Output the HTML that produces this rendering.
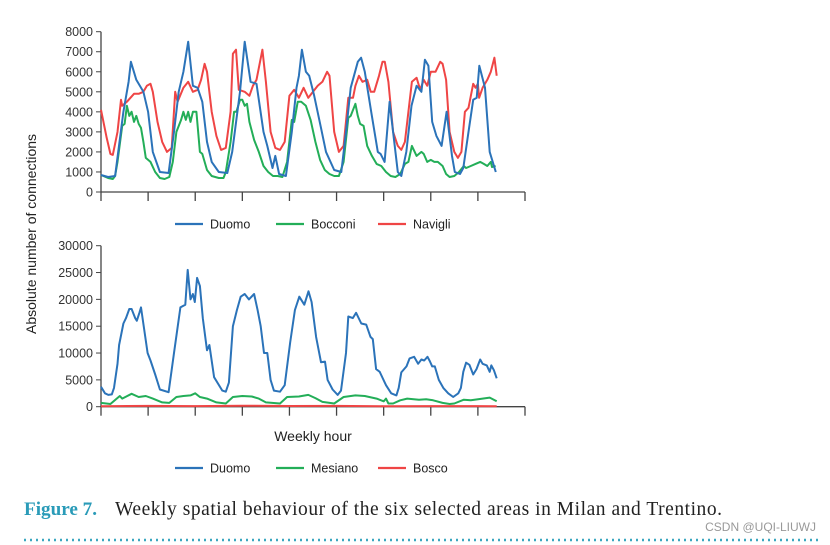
<!DOCTYPE html>
<html><head><meta charset="utf-8">
<style>
body{margin:0;background:#fff;width:830px;height:545px;overflow:hidden;font-family:"Liberation Sans",sans-serif;}
svg{position:absolute;left:0;top:0}
</style></head>
<body>
<svg id="chart" width="830" height="545"></svg>
<script>
// ---- Top chart (Milan) ----
const topTicks=[0,1000,2000,3000,4000,5000,6000,7000,8000];
const duomoMiH=[0,3,6,9.5,11.7,12.7,15,18,20,22,25,28.7,31,33,35,37,39,41,43,45,47,50,53.6,55.7,59,61,63.5,66,69,70.6,72.8,74,75.6,78.5,81,83,84,85.3,87,88.4,90.5,93.4,95.5,99,102,104,106,109,110.4,112,114.7,117.5,118.7,120.4,122.5,123.2,126,127.5,129.6,131.8,134,136,137.5,139,140.6,142.4,144.6,146.7,149,150.2,152.4,153.8,156,158,159.5,160.6,163,165,167.6];
const duomoMiV=[850,750,800,4000,5500,6500,5600,5000,4000,2000,1000,950,3000,5000,6000,7500,5300,5200,4500,2500,1500,1000,950,2000,5000,7500,5500,5400,3000,2300,1200,1800,900,800,3000,5200,5800,7100,6000,5800,4800,3200,2000,1100,1000,3000,5200,6500,6700,6000,4000,2000,1900,1500,4500,3800,1000,800,2000,4300,5300,5000,6600,6300,3500,2800,2300,4000,1800,1000,900,1200,3000,4600,4700,6300,5200,2000,1000];
const navigliH=[0,2.4,3,4,5,7,8.5,9,11,14,16,18,19.5,21,22,24,26,28,30,31.5,32.5,35,37,39,41,42.5,44,45,47,49,51,53,55,56,57.3,58.5,61,63,64.5,66,68.5,70,72,74,76,78,80,82,84,86,88,90,92,94,96,97,99,101,103,105,107,108,109.5,111,113,114.5,116,118,119.5,120.5,122,124,126,127.5,129,132,134,135.5,137,138.5,140,142,144,145,146.5,148,150,151.5,153,154.5,156,158,159,160,160.5,162,164,165.5,167,168];
const navigliV=[4100,2700,2400,1900,1850,3000,4600,4300,4500,4900,4900,5000,5300,5400,5000,3500,2500,2000,2200,5000,4500,5200,5500,5000,5100,5600,6400,6000,4000,2800,2100,2200,4000,6900,7100,5100,5000,4800,5300,5600,7100,5500,3000,2200,2100,2500,4800,5100,4700,5200,4700,5000,5300,5500,6000,5800,3000,2000,2300,4700,4700,5300,5800,5500,5600,5000,5000,5800,6500,6500,5500,3000,2300,2100,2500,5500,5700,5100,5600,5300,6000,6000,6500,6400,5600,3000,2000,1700,2000,4000,4200,5400,5200,5400,4700,5200,5600,6000,6700,5800];
const bocconiH=[0,3,5,6,7,9,10,11,12,13,14,15,16,17,18,19,21,23,25,27,29,30.5,32,34,35,36,37,38,39,40.5,42,43,45,47,50,52,53,55,56.5,57.5,59,60,61,62,63,65,67,69,71,73,75,77,79,81,82,83.5,85,87,89,91,93,95,97,99,101,103,105,106,108,109,110,111.5,113,115,117,119,121,123,125,127,129,130.5,132,134,136,137,138.5,140,141.5,143,145,146.5,148,150,152,154,155,157,159,161,162.5,164,165.5,166,167.5];
const bocconiV=[850,700,650,800,1500,3300,3400,4300,3800,4000,3500,3800,3400,3200,2500,1700,1500,1000,700,650,750,1500,3000,3600,4000,3600,4000,3500,4000,4000,2000,1900,1100,800,700,700,1000,2500,4000,4000,4600,4600,4300,4400,3500,2600,2000,1300,1000,800,800,750,1500,3600,3500,4500,4500,4300,3600,2500,1600,1100,900,800,800,1500,3700,3800,4400,3800,3400,3300,2300,1800,1400,1300,1000,800,750,900,1400,1500,2300,1800,2000,1900,1500,1600,1500,1500,1300,900,750,800,1000,1300,1200,1300,1400,1500,1400,1300,1500,1250,1300];
// ---- Bottom chart (Trentino) ----
const botTicks=[0,5000,10000,15000,20000,25000,30000];
const duomoTnH=[0,1.7,3.1,4.6,5.5,7,7.7,9.5,10.6,12,13,14.5,15.2,16.3,17,19.8,21,23,25,28.7,31,33.7,35.8,36.8,38,39,39.8,40.8,42,43.2,45,46,48,51.5,53,54.3,56,57.7,59.3,61,62.8,65,66.5,67.8,69.2,70.6,72,73.4,76,78,80.3,82.3,84.2,86.3,88.1,89.4,91.3,93.4,95.1,96.2,98.3,100.5,101.9,104,105,106.9,108.3,110.5,112.6,114.4,115.4,116.8,118.3,121,123.2,125.4,126.4,127.5,129.7,131,132.9,134.6,136,137.2,138.6,139.6,140.6,141.7,143.4,145.3,147.4,149.5,151.7,152.8,153.8,155,156.4,158,159.4,161,162,163.8,165,165.7,166.8,168];
const duomoTnV=[3700,2500,2200,2300,3500,8000,11500,15500,16500,18200,18200,16500,16000,17500,18500,10000,8600,6000,3200,2700,10000,18500,19000,25500,20000,21000,19500,24000,22500,16500,10500,11500,5500,3000,2800,4500,15000,18000,20500,21000,20000,21000,18000,15000,10000,10000,5000,3000,2800,4000,12000,18000,20500,19000,21500,19500,13000,8300,8400,5000,3200,2200,3000,10000,16800,16500,17500,15500,15300,13000,12600,7000,6500,4000,2500,2100,3500,6400,7500,9000,9300,8000,8800,8600,9300,8500,7500,7500,5000,3500,2500,1800,2500,3500,6500,8200,7800,6000,7000,8800,8000,7700,6500,7700,6800,5300];
const mesianoH=[0,4,8,9,13,16,19,22,26,29,32,35,38,40,42,45,49,53,56,60,64,67,70,76,79,84,88,91,94,99,103,108,112,117,120,121,122,124,127,130,135,138,141,145,148,150,154,157,162,165,168];
const mesianoV=[700,500,2000,1500,2400,1800,2000,1500,800,700,1800,2000,2100,2500,1800,1500,800,600,1800,2000,1900,1500,800,600,1800,1900,2200,1600,900,600,1800,2100,2000,1500,1000,1500,600,600,1200,1500,1300,1400,1200,700,500,600,1300,1200,1500,1700,1000];
const boscoH=[0,20,40,60,80,100,120,140,160,168];
const boscoV=[100,150,120,180,130,150,100,120,110,100];

const NS='http://www.w3.org/2000/svg';
const svg=document.getElementById('chart');
const X0=101,X1=525,HMAX=180;
function xs(h){return X0+(X1-X0)*h/HMAX;}
function mk(tag,attrs,parent){const e=document.createElementNS(NS,tag);for(const k in attrs)e.setAttribute(k,attrs[k]);(parent||svg).appendChild(e);return e;}

function panel(name,yTop,yBot,vmax,ticks,series){
  const g=mk('g',{});
  
  
  const ys=v=>yBot-(yBot-yTop)*v/vmax;
  const ya=mk('line',{x1:X0,y1:yTop,x2:X0,y2:yBot,stroke:'#444','stroke-width':1.3},g);
  
  
  ticks.forEach(t=>{
    mk('line',{x1:X0-5,y1:ys(t),x2:X0,y2:ys(t),stroke:'#444','stroke-width':1},g);
    const tx=mk('text',{x:X0-8,y:ys(t)+4.5,'text-anchor':'end','font-size':12.5,fill:'#333'},g);
    tx.textContent=t;
    
    
  });
  const xa=mk('line',{x1:X0,y1:yBot,x2:X1,y2:yBot,stroke:'#444','stroke-width':1.3},g);
  
  
  for(let h=0;h<=HMAX;h+=20){mk('line',{x1:xs(h),y1:yBot,x2:xs(h),y2:yBot+9,stroke:'#444','stroke-width':1.3},g);}
  series.forEach(s=>{
    const d=s.h.map((h,i)=>(i?'L':'M')+xs(h).toFixed(1)+','+ys(s.v[i]).toFixed(1)).join('');
    const p=mk('path',{d:d,fill:'none',stroke:s.c,'stroke-width':2,'stroke-linejoin':'round'},g);
    
    
  });
}
const BLUE='#2b73b9',GREEN='#23ae58',RED='#ef4545';
panel('milan-panel',31.7,192,8000,topTicks,[
  {n:'navigli-line',h:navigliH,v:navigliV,c:RED},
  {n:'bocconi-line',h:bocconiH,v:bocconiV,c:GREEN},
  {n:'duomo-milan-line',h:duomoMiH,v:duomoMiV,c:BLUE}]);
panel('trentino-panel',245.7,406.7,30000,botTicks,[
  {n:'bosco-line',h:boscoH,v:boscoV,c:RED},
  {n:'mesiano-line',h:mesianoH,v:mesianoV,c:GREEN},
  {n:'duomo-trento-line',h:duomoTnH,v:duomoTnV,c:BLUE}]);

function legend(y,items,name){
  const g=mk('g',{});
  
  
  const xsL=[175,276,378];
  items.forEach((it,i)=>{
    mk('line',{x1:xsL[i],y1:y,x2:xsL[i]+28,y2:y,stroke:it[1],'stroke-width':2.2},g);
    const t=mk('text',{x:xsL[i]+35,y:y+4.5,'font-size':12.5,fill:'#222'},g);
    t.textContent=it[0];
    
    
  });
}
legend(224,[['Duomo',BLUE],['Bocconi',GREEN],['Navigli',RED]],'milan-legend');
legend(468,[['Duomo',BLUE],['Mesiano',GREEN],['Bosco',RED]],'trentino-legend');
</script>
<svg width="830" height="545" style="pointer-events:none">
<text transform="translate(36,234) rotate(-90)" text-anchor="middle" font-size="14" fill="#222" font-family="Liberation Sans">Absolute number of connections</text>
<text x="313" y="441" text-anchor="middle" font-size="14" fill="#222" font-family="Liberation Sans">Weekly hour</text>
<text x="24" y="515" font-size="19" font-family="Liberation Serif" fill="#2a9bb8" font-weight="bold" textLength="73" lengthAdjust="spacingAndGlyphs">Figure 7.</text>
<text x="115" y="515" font-size="19.5" font-family="Liberation Serif" fill="#222" textLength="607" lengthAdjust="spacing">Weekly spatial behaviour of the six selected areas in Milan and Trentino.</text>
<text x="816" y="531" text-anchor="end" font-size="12" fill="#999" font-family="Liberation Sans">CSDN @UQI-LIUWJ</text>
<line x1="24" y1="540" x2="822" y2="540" stroke="#3aa7c0" stroke-width="2.5" stroke-dasharray="2,4"/>
</svg>
</body></html>
